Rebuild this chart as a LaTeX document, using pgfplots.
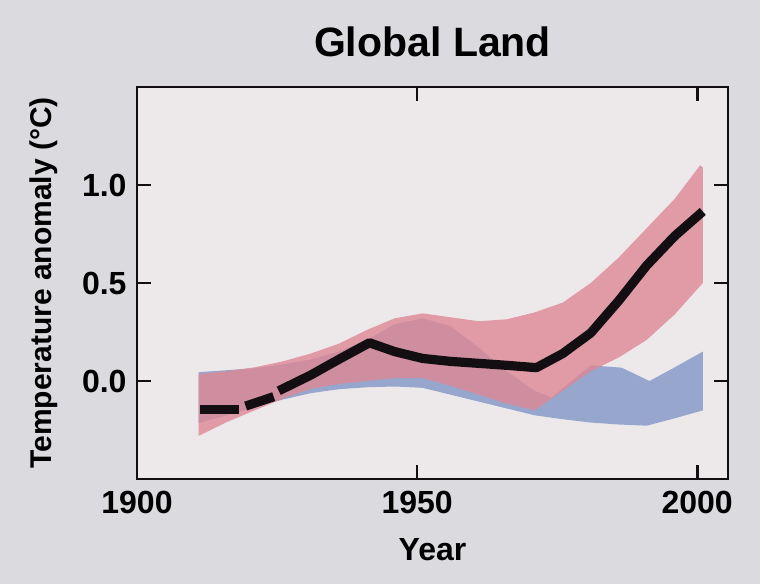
\documentclass[border=0pt]{standalone}
\usepackage{fontspec}
\setmainfont{Liberation Sans}
\usepackage{pgfplots}
\pgfplotsset{compat=1.18}
\usetikzlibrary{backgrounds}
\definecolor{bgout}{RGB}{218,218,223}
\definecolor{bgin}{RGB}{237,233,235}
\definecolor{pinkband}{RGB}{222,136,150}
\definecolor{blueband}{RGB}{150,166,204}
\definecolor{lineblack}{RGB}{18,14,18}
\begin{document}
\begin{tikzpicture}
\begin{axis}[
  name=ax,
  scale only axis, width=295.5pt, height=196pt,
  xmin=1900, xmax=2005.5, ymin=-0.5, ymax=1.5,
  xtick={1900,1950,2000}, xticklabels={1900,1950,2000},
  ytick={0,0.5,1}, yticklabels={0.0,0.5,1.0},
  axis background/.style={fill=bgin},
  axis line style={line width=1.2pt, lineblack},
  major tick style={line width=1.4pt, lineblack},
  major tick length=7pt,
  tick align=inside,
  tick label style={font=\fontsize{16}{19}\selectfont\bfseries},
  xticklabel style={yshift=-2.5pt},
  yticklabel style={xshift=-1.7pt},
  title={\fontsize{20.5}{24}\selectfont\bfseries Global Land},
  title style={at={(0.5,1)}, anchor=base, yshift=9pt},
  xlabel={\fontsize{16}{19}\selectfont\bfseries Year},
  xlabel style={at={(0.5,0)}, anchor=base, yshift=-40.5pt},
  ylabel={\fontsize{15}{18}\selectfont\bfseries Temperature anomaly (°C)},
  ylabel style={at={(0,0.5)}, anchor=center, rotate=0, xshift=0pt, yshift=46.75pt},
  clip=true,
]
% natural forcings only (blue)
\addplot[draw=none, fill=blueband] coordinates {
 (1911,0.045) (1916,0.055) (1921,0.065) (1926,0.085) (1931,0.11) (1936,0.15)
 (1941,0.21) (1946,0.29) (1951,0.32) (1956,0.28) (1961,0.17) (1966,0.05)
 (1971,-0.05) (1974,-0.085) (1978,0.01) (1981,0.08) (1986.5,0.068) (1991.5,0.0)
 (1996,0.07) (2001,0.15)
 (2001,-0.15) (1996,-0.19) (1991,-0.228) (1986,-0.222) (1981,-0.212) (1976,-0.195)
 (1971,-0.175) (1966,-0.14) (1961,-0.105) (1956,-0.07) (1951,-0.035) (1946,-0.028)
 (1941,-0.032) (1936,-0.042) (1931,-0.062) (1926,-0.095) (1921,-0.135) (1916,-0.175)
 (1911,-0.215)
} -- cycle;
% natural + anthropogenic forcings (pink)
\addplot[draw=none, fill=pinkband, fill opacity=0.8] coordinates {
 (1911,0.035) (1916,0.05) (1921,0.07) (1926,0.10) (1931,0.14) (1936,0.19)
 (1941,0.26) (1946,0.32) (1951,0.345) (1956,0.325) (1961,0.305) (1966,0.315)
 (1971,0.35) (1976,0.40) (1981,0.50) (1986,0.63) (1991,0.78) (1996,0.93)
 (2000.5,1.10) (2001,1.09)
 (2001,0.50) (1996,0.34) (1991,0.21) (1986,0.12) (1981,0.05) (1976,-0.05)
 (1971,-0.15) (1966,-0.115) (1961,-0.07) (1956,-0.025) (1951,0.015) (1946,0.015)
 (1941,0.0) (1936,-0.015) (1931,-0.04) (1926,-0.09) (1921,-0.15) (1916,-0.21)
 (1911,-0.28)
} -- cycle;
% observations (black), dashed where coverage is incomplete
\addplot[lineblack, line width=4.6pt, line cap=butt] coordinates {
 (1911.3,-0.145) (1918.2,-0.145)
};
\addplot[lineblack, line width=4.6pt, line cap=butt] coordinates {
 (1919.4,-0.128) (1924.4,-0.08)
};
\addplot[lineblack, line width=4.6pt, line cap=butt, line join=round] coordinates {
 (1925.3,-0.05) (1931,0.03) (1936,0.11) (1941.5,0.195) (1946,0.15) (1951,0.115)
 (1956,0.10) (1961,0.09) (1966,0.08) (1971.3,0.068) (1976,0.14) (1981,0.245)
 (1986,0.41) (1991,0.59) (1996,0.74) (2001,0.865)
};
\end{axis}
\begin{scope}[on background layer]
\fill[bgout] ([xshift=-68.5pt,yshift=-52.5pt]ax.south west) rectangle ([xshift=16pt,yshift=43.5pt]ax.north east);
\end{scope}
\end{tikzpicture}
\end{document}
